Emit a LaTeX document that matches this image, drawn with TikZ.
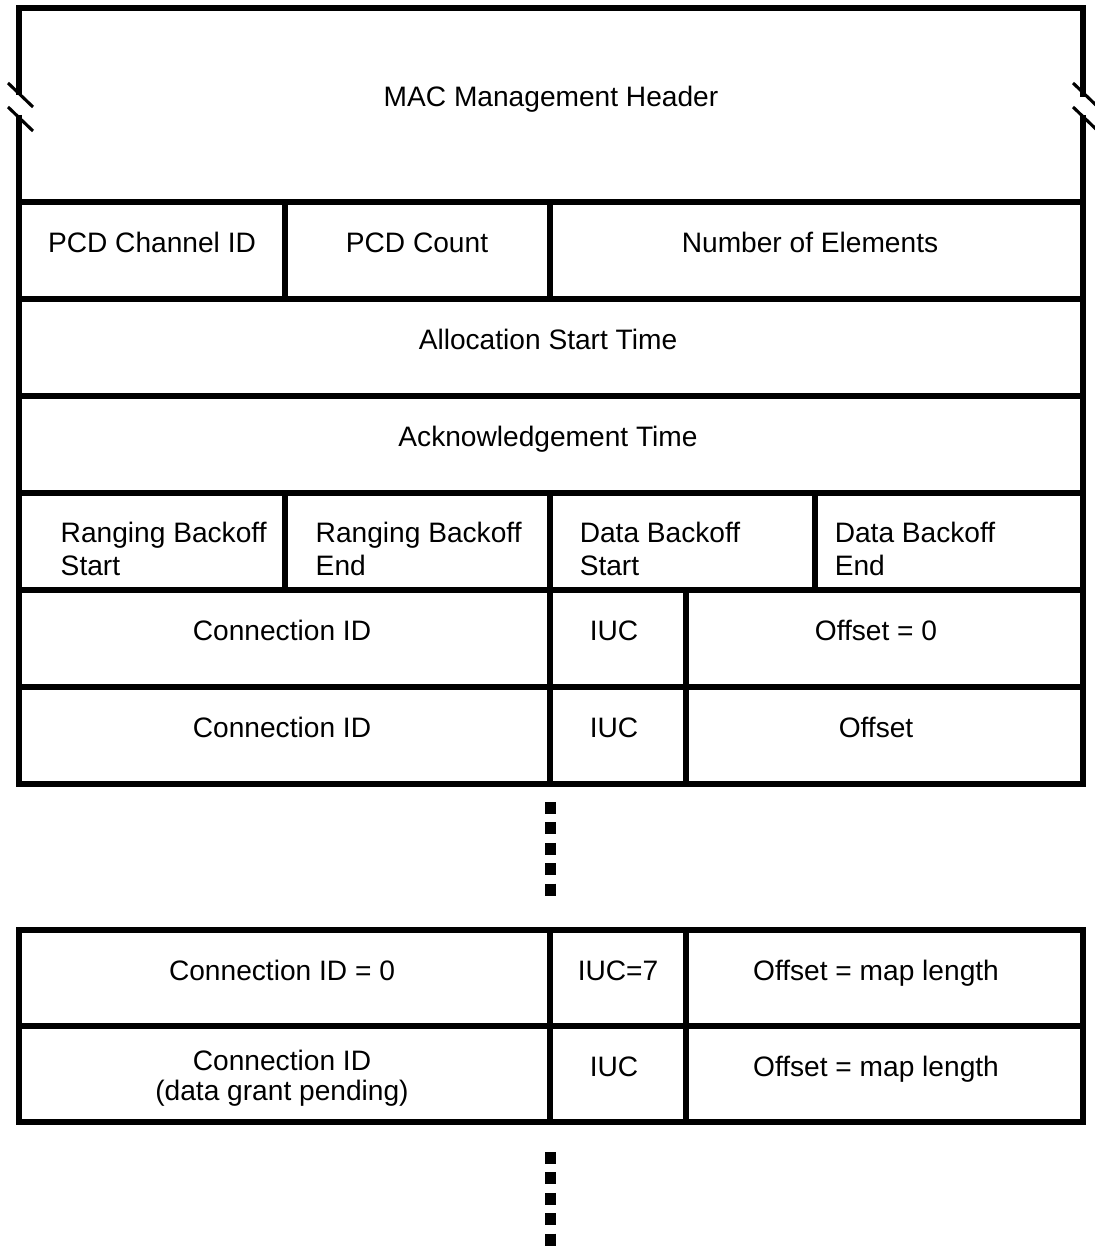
\documentclass[tikz,border=0pt]{standalone}
\usepackage{fontspec}
\setmainfont{Liberation Sans}
\begin{document}
\begin{tikzpicture}[x=0.025cm,y=-0.025cm,line width=3.9pt,draw=black!100]
	\fontsize{20}{23}\selectfont
	\tikzstyle{label}=[anchor=base, text centered, inner sep=0pt]
	\tikzstyle{annot}=[anchor=base west, align=left, inner sep=0pt]
	\tikzstyle{brk}=[line width=2.2pt]
	\tikzstyle{dots}=[line width=7.8pt, dash pattern=on 8.5pt off 6pt]

	\def \lx{19}
	\def \rx{1083}
	\def \cA{285}
	\def \cB{550}
	\def \cC{686}
	\def \cD{815}

	\def \rHead{8}
	\def \rPcd{202}
	\def \rAlloc{299}
	\def \rAck{396}
	\def \rRng{493}
	\def \rCid{590}
	\def \rCidb{687}
	\def \rEnd{784}
	\def \rLast{930}
	\def \rLastb{1026}
	\def \rLaste{1122}

	\useasboundingbox (0,0) rectangle (1095,1248);

	% frame, broken at the header
	\draw (\lx,95) -- (\lx,\rHead) -- (\rx,\rHead) -- (\rx,97);
	\draw (\lx,115) -- (\lx,\rEnd) -- (\rx,\rEnd) -- (\rx,115);
	\draw[brk] (8,83) -- (33,107);
	\draw[brk] (8,107) -- (33,131);
	\draw[brk] (1073,83) -- (1098,107);
	\draw[brk] (1073,107) -- (1098,131);

	\draw[-] (\lx,\rPcd) -- (\rx,\rPcd);
	\draw[-] (\lx,\rAlloc) -- (\rx,\rAlloc);
	\draw[-] (\lx,\rAck) -- (\rx,\rAck);
	\draw[-] (\lx,\rRng) -- (\rx,\rRng);
	\draw[-] (\lx,\rCid) -- (\rx,\rCid);
	\draw[-] (\lx,\rCidb) -- (\rx,\rCidb);

	\draw[-] (\cA,\rPcd) -- (\cA,\rAlloc);
	\draw[-] (\cB,\rPcd) -- (\cB,\rAlloc);
	\draw[-] (\cA,\rRng) -- (\cA,\rCid);
	\draw[-] (\cB,\rRng) -- (\cB,\rCid);
	\draw[-] (\cD,\rRng) -- (\cD,\rCid);
	\draw[-] (\cB,\rCid) -- (\cB,\rEnd);
	\draw[-] (\cC,\rCid) -- (\cC,\rEnd);

	\draw (\lx,\rLast) rectangle (\rx,\rLaste);
	\draw[-] (\lx,\rLastb) -- (\rx,\rLastb);
	\draw[-] (\cB,\rLast) -- (\cB,\rLaste);
	\draw[-] (\cC,\rLast) -- (\cC,\rLaste);

	\coordinate (dotsA) at (550.5,802);
	\coordinate (dotsB) at (550.5,898);
	\coordinate (dotsC) at (550.5,1152);
	\coordinate (dotsD) at (550.5,1248);
	\draw[dots] (dotsA) -- (dotsB);
	\draw[dots] (dotsC) -- (dotsD);

	\node[label] 	(hdr)	at (551,107)		{MAC Management Header};

	\node[label] 	(pcdch)	at (152,252.5)		{PCD Channel ID};
	\node[label] 	(pcdcnt)	at (417,252.5)		{PCD Count};
	\node[label] 	(nelem)	at (810,252.5)		{Number of Elements};

	\node[label] 	(alloc)	at (548,349.5)		{Allocation Start Time};
	\node[label] 	(ack)	at (548,446.5)		{Acknowledgement Time};

	\node[annot] 	(rbs)	at (58,575)		{Ranging Backoff\\Start};
	\node[annot] 	(rbe)	at (313,575)		{Ranging Backoff\\End};
	\node[annot] 	(dbs)	at (577,575)		{Data Backoff\\Start};
	\node[annot] 	(dbe)	at (832,575)		{Data Backoff\\End};

	\node[label] 	(cid1)	at (282,640.5)		{Connection ID};
	\node[label] 	(iuc1)	at (614,640.5)		{IUC};
	\node[label] 	(off1)	at (876,640.5)		{Offset = 0};

	\node[label] 	(cid2)	at (282,737.5)		{Connection ID};
	\node[label] 	(iuc2)	at (614,737.5)		{IUC};
	\node[label] 	(off2)	at (876,737.5)		{Offset};

	\node[label] 	(cid3)	at (282,980)		{Connection ID = 0};
	\node[label] 	(iuc3)	at (618,980)		{IUC=7};
	\node[label] 	(off3)	at (876,980)		{Offset = map length};

	\node[label, align=center] 	(cid4)	at (282,1100)		{Connection ID\\[-2pt](data grant pending)};
	\node[label] 	(iuc4)	at (614,1076)		{IUC};
	\node[label] 	(off4)	at (876,1076)		{Offset = map length};
\end{tikzpicture}
\end{document}
